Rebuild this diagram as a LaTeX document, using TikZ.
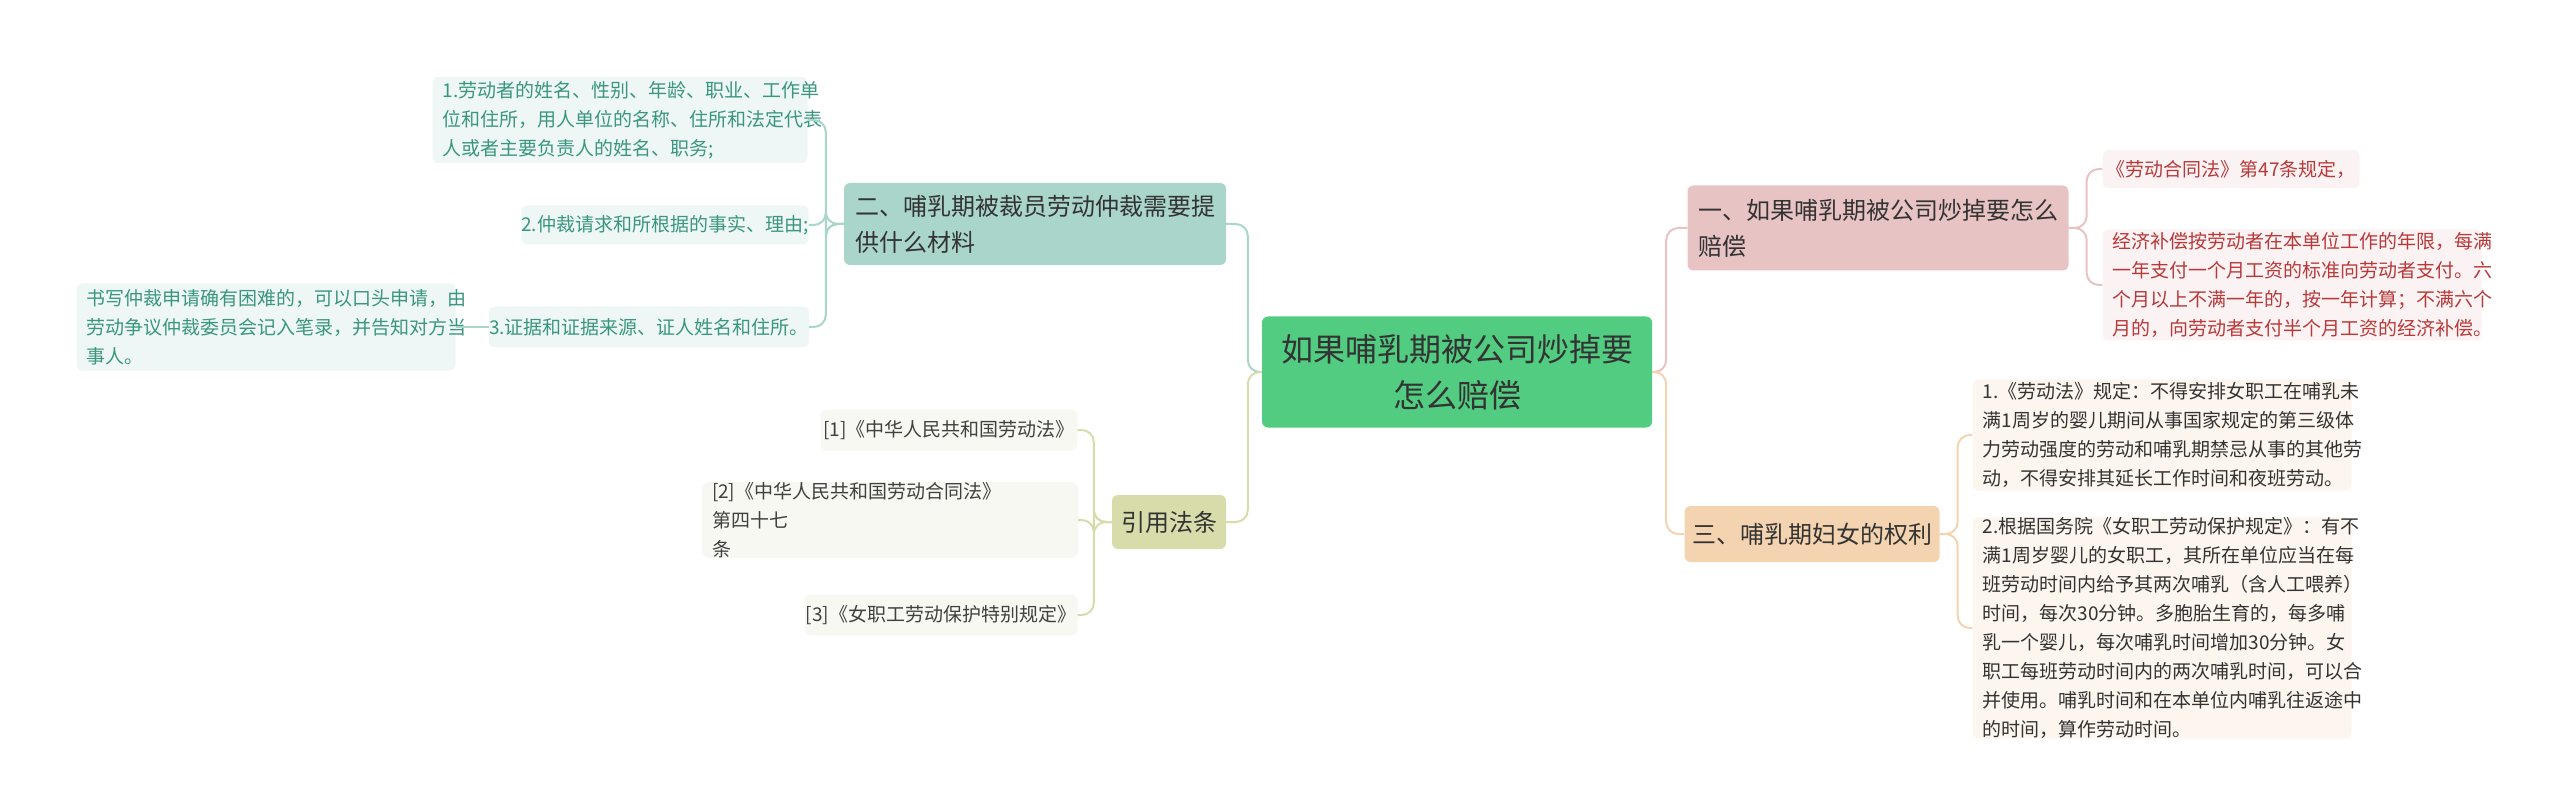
\documentclass[tikz,border=0pt]{standalone}
\usepackage{fontspec}
\setmainfont{Noto Sans CJK SC}
\definecolor{root_green}{HTML}{52CC80}
\definecolor{teal_fill}{HTML}{A9D5CB}
\definecolor{teal_leaf}{HTML}{EEF7F5}
\definecolor{teal_text}{HTML}{3A9680}
\definecolor{olive_fill}{HTML}{D8DCAA}
\definecolor{olive_leaf}{HTML}{F7F8F1}
\definecolor{rose_fill}{HTML}{E8C3C3}
\definecolor{rose_leaf}{HTML}{FBF3F3}
\definecolor{rose_text}{HTML}{B8393A}
\definecolor{sand_fill}{HTML}{F4D4B0}
\definecolor{sand_leaf}{HTML}{FDF6EE}
\tikzset{
  box/.style={rounded corners=6pt, align=left, inner sep=0pt, anchor=center},
  leaf/.style={box, font=\fontsize{19}{29}\selectfont},
  branch/.style={box, font=\fontsize{24}{36}\selectfont, text=black!80},
  link/.style={line width=2pt, rounded corners=12pt}
}
\begin{document}
\begin{tikzpicture}[x=1pt, y=-1pt]
  \useasboundingbox (0,0) rectangle (2560,810);
  % root
  \node [box, fill=root_green, minimum width=390, minimum height=111, font=\fontsize{32}{46}\selectfont, align=center, text=black!80] (root) at (1457,372) {如果哺乳期被公司炒掉要\\怎么赔偿};
  % branches
  \node [branch, fill=teal_fill, minimum width=382, minimum height=82, text width=360] (mat) at (1035,224) {二、哺乳期被裁员劳动仲裁需要提\\供什么材料};
  \node [branch, fill=olive_fill, minimum width=114, minimum height=54, align=center] (law) at (1169,522) {引用法条};
  \node [branch, fill=rose_fill, minimum width=381, minimum height=85, text width=360] (comp) at (1878,228) {一、如果哺乳期被公司炒掉要怎么\\赔偿};
  \node [branch, fill=sand_fill, minimum width=255, minimum height=56, align=center] (right) at (1812,534) {三、哺乳期妇女的权利};
  % leaves of mat
  \node [leaf, fill=teal_leaf, text=teal_text, minimum width=375, minimum height=86, text width=355] (m1) at (620,120) {1.劳动者的姓名、性别、年龄、职业、工作单\\位和住所，用人单位的名称、住所和法定代表\\人或者主要负责人的姓名、职务;};
  \node [leaf, fill=teal_leaf, text=teal_text, minimum width=286, minimum height=39, align=center] (m2) at (665,225) {2.仲裁请求和所根据的事实、理由;};
  \node [leaf, fill=teal_leaf, text=teal_text, minimum width=318, minimum height=41, align=center] (m3) at (649,327) {3.证据和证据来源、证人姓名和住所。};
  \node [leaf, fill=teal_leaf, text=teal_text, minimum width=379, minimum height=87, text width=359] (m3a) at (266,327) {书写仲裁申请确有困难的，可以口头申请，由\\劳动争议仲裁委员会记入笔录，并告知对方当\\事人。};
  % leaves of law
  \node [leaf, fill=olive_leaf, text=black!75, minimum width=257, minimum height=41, align=center] (l1) at (949,430) {[1]《中华人民共和国劳动法》};
  \node [leaf, fill=olive_leaf, text=black!75, minimum width=376, minimum height=67, text width=356] (l2) at (890,520) {[2]《中华人民共和国劳动合同法》 第四十七\\条};
  \node [leaf, fill=olive_leaf, text=black!75, minimum width=273, minimum height=41, align=center] (l3) at (941,615) {[3]《女职工劳动保护特别规定》};
  % leaves of comp
  \node [leaf, fill=rose_leaf, text=rose_text, minimum width=257, minimum height=38, align=center] (c1) at (2231,169) {《劳动合同法》第47条规定，};
  \node [leaf, fill=rose_leaf, text=rose_text, minimum width=379, minimum height=111, text width=359] (c2) at (2292,285) {经济补偿按劳动者在本单位工作的年限，每满\\一年支付一个月工资的标准向劳动者支付。六\\个月以上不满一年的，按一年计算；不满六个\\月的，向劳动者支付半个月工资的经济补偿。};
  % leaves of right
  \node [leaf, fill=sand_leaf, text=black!80, minimum width=379, minimum height=111, text width=359] (r1) at (2162,435) {1.《劳动法》规定：不得安排女职工在哺乳未\\满1周岁的婴儿期间从事国家规定的第三级体\\力劳动强度的劳动和哺乳期禁忌从事的其他劳\\动，不得安排其延长工作时间和夜班劳动。};
  \node [leaf, fill=sand_leaf, text=black!80, minimum width=379, minimum height=208, text width=359] (r2) at (2162,628) {2.根据国务院《女职工劳动保护规定》：有不\\满1周岁婴儿的女职工，其所在单位应当在每\\班劳动时间内给予其两次哺乳（含人工喂养）\\时间，每次30分钟。多胞胎生育的，每多哺\\乳一个婴儿，每次哺乳时间增加30分钟。女\\职工每班劳动时间内的两次哺乳时间，可以合\\并使用。哺乳时间和在本单位内哺乳往返途中\\的时间，算作劳动时间。};
  % connectors
  \draw [link, teal_fill] (root.west) -- ++(-14,0) |- (mat.east);
  \draw [link, olive_fill] (root.west) -- ++(-14,0) |- (law.east);
  \draw [link, rose_fill] (root.east) -- ++(14,0) |- (comp.west);
  \draw [link, sand_fill] (root.east) -- ++(14,0) |- (right.west);
  \foreach \leafname in {m1, m2, m3}
    \draw [link, teal_fill] (mat.west) -- ++(-18,0) |- (\leafname.east);
  \draw [link, teal_fill] (m3.west) -- (m3a.east);
  \foreach \leafname in {l1, l2, l3}
    \draw [link, olive_fill] (law.west) -- ++(-18,0) |- (\leafname.east);
  \foreach \leafname in {c1, c2}
    \draw [link, rose_fill] (comp.east) -- ++(18,0) |- (\leafname.west);
  \foreach \leafname in {r1, r2}
    \draw [link, sand_fill] (right.east) -- ++(18,0) |- (\leafname.west);
\end{tikzpicture}
\end{document}
